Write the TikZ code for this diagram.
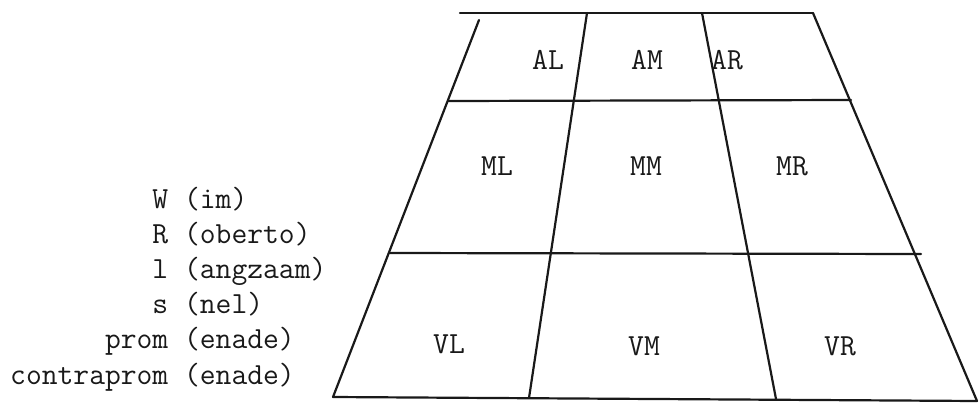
\documentclass[tikz,border=0pt]{standalone}
\usepackage{fontspec}
\begin{document}
\begin{tikzpicture}[x=1pt,y=-1pt,
  gridline/.style={line width=2.2pt, line cap=round, draw=black!90},
  lbl/.style={font=\fontsize{30.7}{35}\selectfont\ttfamily, inner sep=0pt, text=black!90},
  cell/.style={lbl, anchor=center}]
\useasboundingbox (0,0) rectangle (979,407);
% corner and grid coordinates
\coordinate (tl) at (460,13);
\coordinate (tr) at (813,13);
\coordinate (lt) at (479,20);
\coordinate (bl) at (333,397);
\coordinate (br) at (977,401);
\coordinate (r1l) at (448,101);
\coordinate (r1r) at (851,100);
\coordinate (r2l) at (390,253);
\coordinate (r2r) at (921,254);
\coordinate (c1t) at (587,13);
\coordinate (c1b) at (529,398);
\coordinate (c2t) at (702,13);
\coordinate (c2b) at (776,399);
% outline and grid
\draw[gridline] (tl) -- (tr);
\draw[gridline] (lt) -- (bl);
\draw[gridline] (tr) -- (br);
\draw[gridline] (bl) -- (br);
\draw[gridline] (r1l) -- (r1r);
\draw[gridline] (r2l) -- (r2r);
\draw[gridline] (c1t) -- (c1b);
\draw[gridline] (c2t) -- (c2b);
% cell labels
\node[cell] (AL) at (548,60) {AL};
\node[cell] (AM) at (647,60) {AM};
\node[cell] (AR) at (727,60) {AR};
\node[cell] (ML) at (497,166) {ML};
\node[cell] (MM) at (646,166) {MM};
\node[cell] (MR) at (792,166) {MR};
\node[cell] (VL) at (449,344) {VL};
\node[cell] (VM) at (644,346) {VM};
\node[cell] (VR) at (840,346) {VR};
% left legend
\node[lbl, anchor=base west] (w1) at (10,208) {\hphantom{contrapro}W (im)};
\node[lbl, anchor=base west] (w2) at (10,243.2) {\hphantom{contrapro}R (oberto)};
\node[lbl, anchor=base west] (w3) at (10,278.4) {\hphantom{contrapro}l (angzaam)};
\node[lbl, anchor=base west] (w4) at (10,313.6) {\hphantom{contrapro}s (nel)};
\node[lbl, anchor=base west] (w5) at (10,348.8) {\hphantom{contra}prom (enade)};
\node[lbl, anchor=base west] (w6) at (10,384) {contraprom (enade)};
\end{tikzpicture}
\end{document}
